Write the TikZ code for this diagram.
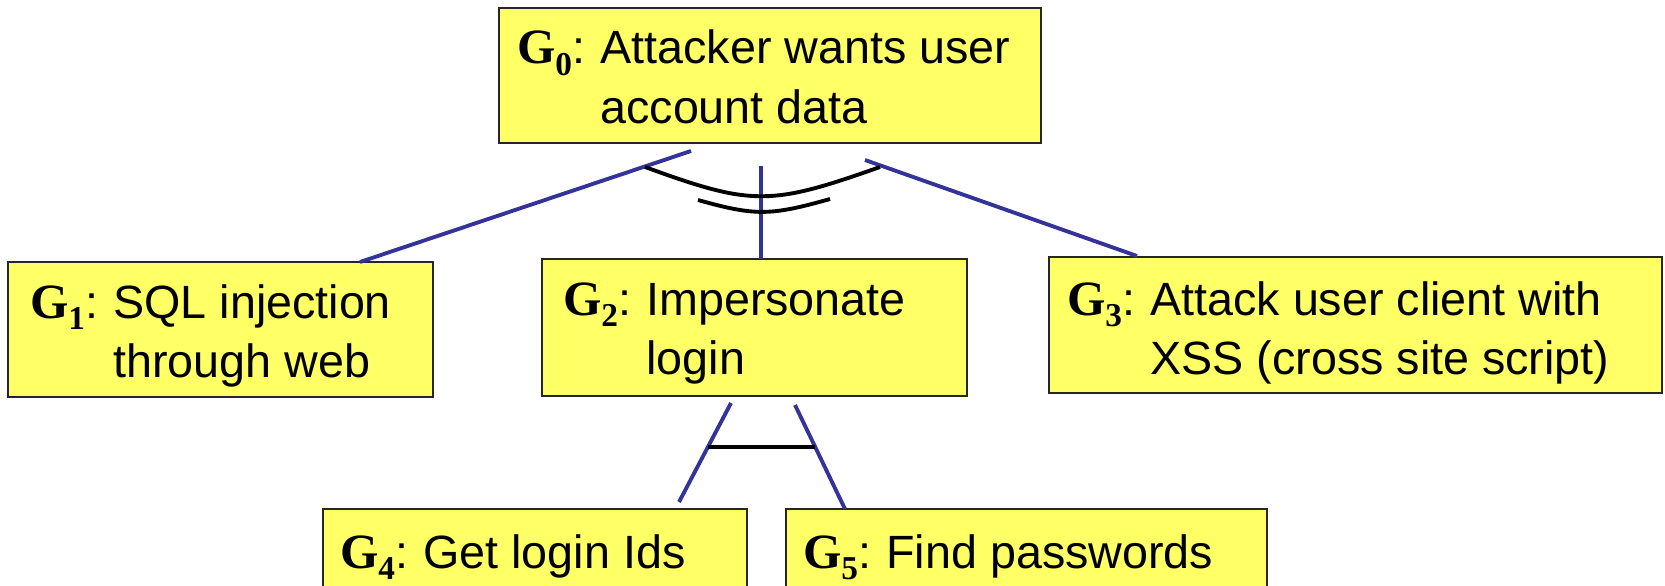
\documentclass[tikz,border=0pt]{standalone}
\usepackage{fontspec}
\setmainfont{Liberation Sans}
\newfontfamily\gfont{Liberation Serif}
\newcommand\glab[1]{{\gfont\bfseries\fontsize{37}{44.5}\selectfont G\raisebox{-8.5pt}{\fontsize{25}{25}\selectfont #1}}:\kern0.33em}
\definecolor{boxyellow}{HTML}{FFFF66}
\definecolor{linkblue}{HTML}{333399}
\begin{document}
\begin{tikzpicture}[x=0.75pt,y=-0.75pt,
  box/.style={draw=black!85, line width=1.5pt, fill=boxyellow, rectangle, inner sep=0pt, outer sep=0pt},
  lbl/.style={anchor=base west, inner sep=0pt, outer sep=0pt, font=\fontsize{35}{44.5}\selectfont},
  orlink/.style={draw=linkblue, line width=2.9pt},
  andbar/.style={draw=black, line width=2.9pt}]
\useasboundingbox (0,0) rectangle (1665,585);
\begin{scope}
\clip (0,0) rectangle (1665,585);
% boxes
\node[box, minimum width=406.5pt, minimum height=101.25pt] (g0) at (770,75.5) {};
\node[box, minimum width=318.75pt, minimum height=101.25pt] (g1) at (220.5,329.5) {};
\node[box, minimum width=318.75pt, minimum height=102.75pt] (g2) at (754.5,327.5) {};
\node[box, minimum width=459.75pt, minimum height=102pt] (g3) at (1355.5,325) {};
\node[box, minimum width=318pt, minimum height=68.25pt] (g4) at (535,554.5) {};
\node[box, minimum width=360.75pt, minimum height=68.25pt] (g5) at (1026.5,554.5) {};
% labels
\node[lbl] (t0) at (517,64) {\begin{tabular}[t]{@{}l@{}l@{}}\glab{0} & Attacker wants user\\ & account data\end{tabular}};
\node[lbl] (t1) at (30,318) {\begin{tabular}[t]{@{}l@{}l@{}}\glab{1} & SQL injection\\ & through web\end{tabular}};
\node[lbl] (t2) at (563,315) {\begin{tabular}[t]{@{}l@{}l@{}}\glab{2} & Impersonate\\ & login\end{tabular}};
\node[lbl] (t3) at (1067,315) {\begin{tabular}[t]{@{}l@{}l@{}}\glab{3} & Attack user client with\\ & XSS (cross site script)\end{tabular}};
\node[lbl] (t4) at (340,568) {\glab{4}Get login Ids};
\node[lbl] (t5) at (803,568) {\glab{5}Find passwords};
% connector end points
\coordinate (a1) at (691,151);
\coordinate (b1) at (360,262);
\coordinate (a2) at (761,166);
\coordinate (b2) at (761,259);
\coordinate (a3) at (865,160);
\coordinate (b3) at (1137,256);
\coordinate (c4) at (731,403);
\coordinate (d4) at (679,502);
\coordinate (c5) at (795,405);
\coordinate (d5) at (845,509);
\coordinate (u1) at (645,167);
\coordinate (u2) at (880,167);
\coordinate (v1) at (698,200);
\coordinate (v2) at (830,199);
\coordinate (h1) at (708,447);
\coordinate (h2) at (815,447);
% connectors
\draw[orlink] (a1) -- (b1);
\draw[orlink] (a2) -- (b2);
\draw[orlink] (a3) -- (b3);
\draw[orlink] (c4) -- (d4);
\draw[orlink] (c5) -- (d5);
\draw[andbar] (u1) .. controls (752,206) and (770,206) .. (u2);
\draw[andbar] (v1) .. controls (755,216) and (770,216) .. (v2);
\draw[andbar] (h1) -- (h2);
\end{scope}
\end{tikzpicture}
\end{document}
